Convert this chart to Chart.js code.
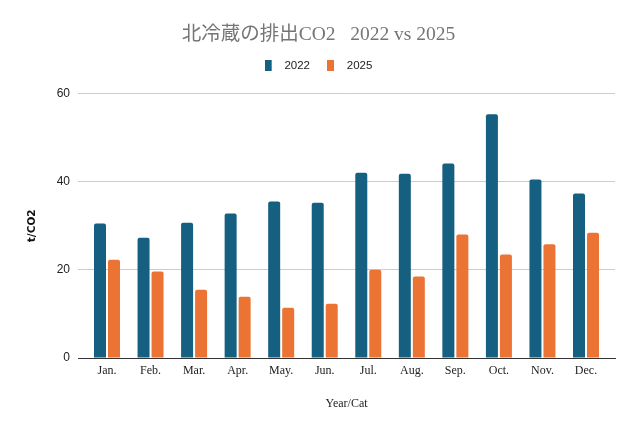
<!DOCTYPE html>
<html>
<head>
<meta charset="utf-8">
<script src="https://cdn.jsdelivr.net/npm/chart.js@4.4.1/dist/chart.umd.min.js"></script>
<style>
  body { margin: 0; background: #fff; }
  #wrap { width: 637px; height: 432px; }
</style>
</head>
<body>
<div id="wrap"><canvas id="co2Chart" width="637" height="432"></canvas></div>
<script>
const months = ['Jan.', 'Feb.', 'Mar.', 'Apr.', 'May.', 'Jun.', 'Jul.', 'Aug.', 'Sep.', 'Oct.', 'Nov.', 'Dec.'];
const co2_2022 = [30.5, 27.3, 30.7, 32.8, 35.5, 35.2, 42.0, 41.8, 44.1, 55.3, 40.5, 37.3];
const co2_2025 = [22.3, 19.6, 15.5, 13.9, 11.4, 12.3, 20.0, 18.5, 28.0, 23.5, 25.8, 28.4];
const yTicks = [0, 20, 40, 60];

const blue = '#155f80';
const orange = '#eb7434';
const serif = "'Liberation Serif', 'Noto Sans CJK JP', serif";
const narrow = "'Liberation Sans Narrow', 'Arial Narrow', 'Liberation Sans', sans-serif";

// legend marker: small tall box with some space after it
function marker(color) {
  const c = document.createElement('canvas');
  c.width = 14;
  c.height = 11;
  const g = c.getContext('2d');
  g.fillStyle = color;
  g.fillRect(0, 0, 7, 11);
  return c;
}
const markers = [marker(blue), marker(orange)];

// a bit more room between legend and plot
const legendGap = {
  id: 'legendGap',
  beforeInit(chart) {
    const fit = chart.legend.fit;
    chart.legend.fit = function () {
      fit.bind(chart.legend)();
      this.height += 12;
    };
  }
};

const edgePad = 0.166;

const ctx = document.getElementById('co2Chart').getContext('2d');
new Chart(ctx, {
  type: 'bar',
  data: {
    labels: months,
    datasets: [
      { label: '2022', data: co2_2022, backgroundColor: blue },
      { label: '2025', data: co2_2025, backgroundColor: orange }
    ]
  },
  options: {
    responsive: false,
    animation: false,
    devicePixelRatio: 1,
    layout: { padding: 0 },
    datasets: {
      bar: {
        categoryPercentage: 0.643,
        barPercentage: 0.857,
        borderRadius: 2
      }
    },
    plugins: {
      title: {
        display: true,
        text: '北冷蔵の排出CO2   2022 vs 2025',
        color: '#757575',
        font: { family: serif, size: 19.5, weight: 'normal', lineHeight: 0.75 },
        padding: { top: 28, bottom: 0.4 }
      },
      legend: {
        display: true,
        labels: {
          usePointStyle: true,
          pointStyleWidth: 14,
          padding: 17,
          color: '#222',
          font: { family: narrow, size: 11.5 },
          generateLabels(chart) {
            const items = Chart.defaults.plugins.legend.labels.generateLabels(chart);
            items.forEach((it, i) => { it.pointStyle = markers[i]; });
            return items;
          }
        }
      },
      tooltip: { enabled: false }
    },
    scales: {
      x: {
        grid: { display: false, drawTicks: false },
        border: { display: true, color: '#333', width: 1 },
        ticks: { color: '#222', padding: 6, font: { family: serif, size: 12 } },
        title: {
          display: true,
          text: 'Year/Cat',
          color: '#222',
          font: { family: serif, size: 12 },
          padding: { top: 0, bottom: 21 }
        },
        afterBuildTicks(s) {
          s._startValue = -0.5 - edgePad;
          s._valueRange = months.length + 2 * edgePad;
        },
        afterFit(s) { s.height = 74; }
      },
      y: {
        min: yTicks[0],
        max: yTicks[yTicks.length - 1],
        grid: { color: '#cccccc', drawTicks: false },
        border: { display: false },
        ticks: { color: '#222', padding: 8, font: { family: narrow, size: 12 } },
        title: {
          display: true,
          text: 't/CO2',
          color: '#111',
          font: { family: "'DejaVu Sans', sans-serif", size: 10.5, weight: 'bold' },
          padding: { top: 25.5, bottom: 0 }
        },
        afterBuildTicks(s) { s.ticks = yTicks.map(v => ({ value: v })); },
        afterFit(s) { s.width = 78; }
      },
      yRight: {
        position: 'right',
        display: true,
        grid: { display: false },
        border: { display: false },
        ticks: { display: false },
        afterFit(s) { s.width = 22; }
      }
    }
  },
  plugins: [legendGap]
});
</script>
</body>
</html>
